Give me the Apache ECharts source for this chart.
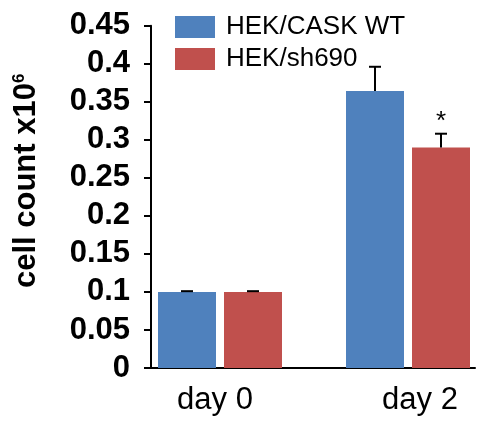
<!DOCTYPE html>
<html><head><meta charset="utf-8">
<script src="https://cdn.jsdelivr.net/npm/echarts@6/dist/echarts.min.js"></script>
<style>html,body{margin:0;padding:0;background:#fff}#c{width:478px;height:421px}</style>
</head><body><div id="c"></div>
<script>
const categories = ["day 0", "day 2"];
const seriesNames = ["HEK/CASK WT", "HEK/sh690"];
const wtValues = [0.1, 0.364];
const wtErrors = [0.001, 0.032];
const shValues = [0.1, 0.29];
const shErrors = [0.001, 0.018];
const shMarks = ["", "*"];
const yTicks = { min: 0, max: 0.45, interval: 0.05 };

const BLUE = '#4F81BD', RED = '#C0504D';
const BAR_W = 58, GAP = 8;
const font = 'Arial, "Liberation Sans", Helvetica, sans-serif';

function errSeries(values, errors, offset, marks) {
  return {
    type: 'custom', xAxisIndex: 1, yAxisIndex: 1, z: 5,
    data: values.map((v, i) => [i, v, v + errors[i], marks ? marks[i] : ""]),
    renderItem: function (params, api) {
      const lo = api.coord([api.value(0), api.value(1)]);
      const hi = api.coord([api.value(0), api.value(2)]);
      const x = lo[0] + offset;
      const children = [
        { type: 'line', shape: { x1: x, y1: lo[1], x2: x, y2: hi[1] }, style: { stroke: '#000', lineWidth: 2 } },
        { type: 'line', shape: { x1: x - 6, y1: hi[1], x2: x + 6, y2: hi[1] }, style: { stroke: '#000', lineWidth: 2 } }
      ];
      const mark = api.value(3);
      if (mark) {
        children.push({ type: 'text', style: { text: mark, x: x, y: hi[1] + 1, align: 'center', verticalAlign: 'bottom', font: '26px ' + font, fill: '#000' } });
      }
      return { type: 'group', children: children };
    }
  };
}

const chart = echarts.init(document.getElementById('c'));
chart.setOption({
  animation: false,
  backgroundColor: '#fff',
  grid: [
    { left: 151, right: 3, top: 25.7, bottom: 53, outerBoundsMode: 'none', containLabel: false },
    { left: 126, width: 376, top: 25.7, bottom: 53, outerBoundsMode: 'none', containLabel: false }
  ],
  legend: {
    orient: 'vertical', left: 175, top: 14, padding: 0, itemWidth: 40, itemHeight: 22, itemGap: 6,
    icon: 'rect', textStyle: { fontSize: 26, fontFamily: font, color: '#000', padding: [0, 0, 0, 6] },
    data: seriesNames
  },
  xAxis: [
    { type: 'category', gridIndex: 0, data: categories, axisLine: { lineStyle: { color: '#000', width: 2 } }, axisTick: { show: false }, axisLabel: { show: false } },
    { type: 'category', gridIndex: 1, data: categories, axisLine: { show: false }, axisTick: { show: false },
      axisLabel: { fontSize: 31, fontFamily: font, color: '#000', margin: 17,
        formatter: function (v, i) { return '{c' + i + '|' + v + '}'; },
        rich: { c0: { fontSize: 31, fontFamily: font, color: '#000', padding: [0, 10, 0, 0] },
                c1: { fontSize: 31, fontFamily: font, color: '#000', padding: [0, 0, 0, 24] } } } }
  ],
  yAxis: [
    { type: 'value', gridIndex: 0, min: yTicks.min, max: yTicks.max, interval: yTicks.interval,
      axisLine: { show: true, lineStyle: { color: '#000', width: 2 } },
      axisTick: { show: true, length: 7, lineStyle: { color: '#000', width: 2 } },
      splitLine: { show: false },
      axisLabel: { fontSize: 31, fontWeight: 'bold', fontFamily: font, color: '#000', margin: 21 },
      name: 'cell count x10{sup|6}', nameLocation: 'middle', nameGap: 109, nameRotate: 90,
      nameTextStyle: { fontSize: 31, fontWeight: 'bold', fontFamily: font, color: '#000', padding: [0, 0, 0, 32],
        rich: { sup: { fontSize: 17, fontWeight: 'bold', fontFamily: font, color: '#000', verticalAlign: 'top', padding: [0, 0, 14, 0] } } } },
    { type: 'value', gridIndex: 1, min: yTicks.min, max: yTicks.max, interval: yTicks.interval, show: false }
  ],
  series: [
    { name: seriesNames[0], type: 'bar', xAxisIndex: 1, yAxisIndex: 1, data: wtValues, barWidth: BAR_W, barGap: (GAP / BAR_W * 100) + '%', itemStyle: { color: BLUE } },
    { name: seriesNames[1], type: 'bar', xAxisIndex: 1, yAxisIndex: 1, data: shValues, barWidth: BAR_W, itemStyle: { color: RED } },
    errSeries(wtValues, wtErrors, -(BAR_W + GAP) / 2),
    errSeries(shValues, shErrors, (BAR_W + GAP) / 2, shMarks)
  ]
});
</script></body></html>
